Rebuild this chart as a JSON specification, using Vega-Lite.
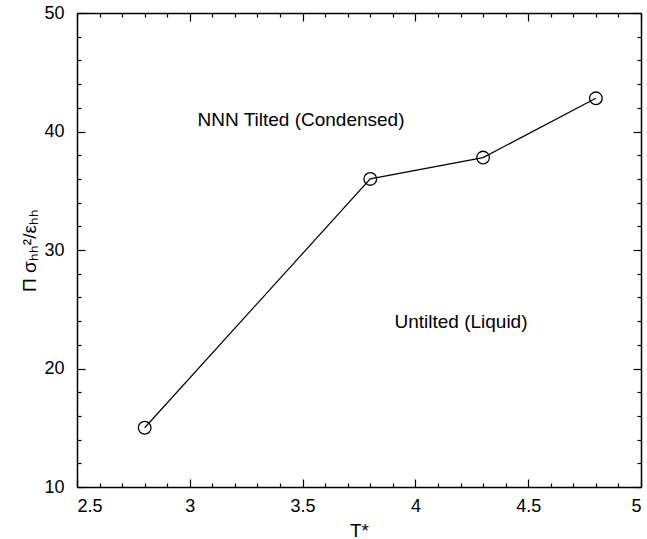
{
  "$schema": "https://vega.github.io/schema/vega-lite/v6.json",
  "width": 564,
  "height": 474,
  "autosize": {"type": "none"},
  "padding": {"left": 77, "top": 13, "right": 6, "bottom": 52},
  "background": "white",
  "config": {
    "view": {"stroke": null},
    "axis": {
      "grid": false,
      "domainColor": "black",
      "domainWidth": 1.5,
      "tickColor": "black",
      "tickWidth": 1.2,
      "labelColor": "black",
      "labelFont": "Liberation Sans",
      "labelFontSize": 18,
      "titleFont": "Liberation Sans",
      "titleFontSize": 19,
      "titleFontWeight": "normal",
      "titleColor": "black",
      "labelOverlap": false
    }
  },
  "datasets": {
    "pts": [
      {"T": 2.8, "P": 15.0},
      {"T": 3.8, "P": 36.0},
      {"T": 4.3, "P": 37.8},
      {"T": 4.8, "P": 42.8}
    ],
    "notes": [
      {"T": 3.493, "P": 41.0, "label": "NNN Tilted (Condensed)"},
      {"T": 4.202, "P": 23.9, "label": "Untilted (Liquid)"}
    ]
  },
  "layer": [
    {
      "data": {"name": "pts"},
      "mark": {"type": "line", "color": "black", "strokeWidth": 1.2},
      "encoding": {
        "x": {
          "field": "T", "type": "quantitative",
          "scale": {"domain": [2.5, 5], "nice": false, "zero": false},
          "axis": {
            "orient": "bottom",
            "title": "T*",
            "titlePadding": 2,
            "values": [2.5,2.6,2.7,2.8,2.9,3.0,3.1,3.2,3.3,3.4,3.5,3.6,3.7,3.8,3.9,4.0,4.1,4.2,4.3,4.4,4.5,4.6,4.7,4.8,4.9,5.0],
            "labelExpr": "abs(datum.value*2 - round(datum.value*2)) < 0.001 ? format(datum.value, '.1~f') : ''",
            "tickSize": {"condition": {"test": "abs(datum.value*2 - round(datum.value*2)) < 0.001", "value": -8}, "value": -4},
            "labelPadding": 18
          }
        },
        "y": {
          "field": "P", "type": "quantitative",
          "scale": {"domain": [10, 50], "nice": false, "zero": false},
          "axis": {
            "orient": "left",
            "title": "Π σₕₕ²/εₕₕ",
            "titlePadding": 4,
            "values": [10,12,14,16,18,20,22,24,26,28,30,32,34,36,38,40,42,44,46,48,50],
            "labelExpr": "datum.value % 10 == 0 ? format(datum.value, 'd') : ''",
            "tickSize": {"condition": {"test": "datum.value % 10 == 0", "value": -8}, "value": -4},
            "labelPadding": 21
          }
        }
      }
    },
    {
      "data": {"name": "pts"},
      "mark": {"type": "point", "shape": "circle", "size": 160, "color": "black", "strokeWidth": 1.3, "filled": false, "opacity": 1},
      "encoding": {
        "x": {"field": "T", "type": "quantitative", "axis": null},
        "y": {"field": "P", "type": "quantitative", "axis": null}
      }
    },
    {
      "data": {"name": "notes"},
      "mark": {"type": "text", "font": "Liberation Sans", "fontSize": 19, "color": "black"},
      "encoding": {
        "x": {"field": "T", "type": "quantitative", "axis": null},
        "y": {"field": "P", "type": "quantitative", "axis": null},
        "text": {"field": "label"}
      }
    },
    {
      "data": {"name": "pts"},
      "mark": {"type": "point", "opacity": 0},
      "encoding": {
        "x": {
          "field": "T", "type": "quantitative",
          "axis": {
            "orient": "top", "title": null, "labels": false,
            "values": [2.5,2.6,2.7,2.8,2.9,3.0,3.1,3.2,3.3,3.4,3.5,3.6,3.7,3.8,3.9,4.0,4.1,4.2,4.3,4.4,4.5,4.6,4.7,4.8,4.9,5.0],
            "tickSize": {"condition": {"test": "abs(datum.value*2 - round(datum.value*2)) < 0.001", "value": -8}, "value": -4}
          }
        },
        "y": {
          "field": "P", "type": "quantitative",
          "axis": {
            "orient": "right", "title": null, "labels": false,
            "values": [10,12,14,16,18,20,22,24,26,28,30,32,34,36,38,40,42,44,46,48,50],
            "tickSize": {"condition": {"test": "datum.value % 10 == 0", "value": -8}, "value": -4}
          }
        }
      }
    }
  ],
  "resolve": {"axis": {"x": "independent", "y": "independent"}}
}
